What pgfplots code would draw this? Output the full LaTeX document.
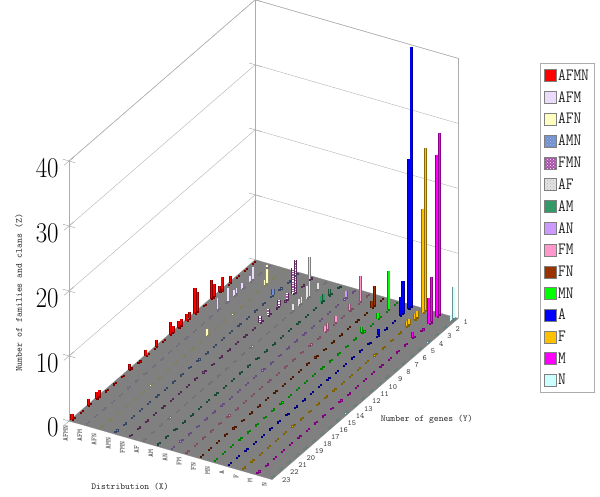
\documentclass[border=0pt]{standalone}
\usepackage{pgfplots}
\usepackage{pgfplotstable}
\pgfplotsset{compat=1.18}
\usetikzlibrary{patterns,calc}
\definecolor{cAFMN}{HTML}{FF0000}
\definecolor{cAFM}{HTML}{EADCFA}
\definecolor{cAFN}{HTML}{FFFFC0}
\definecolor{cAMN}{HTML}{6F8FCF}
\definecolor{cFMN}{HTML}{A850A8}
\definecolor{cAF}{HTML}{E4E4E4}
\definecolor{cAM}{HTML}{339966}
\definecolor{cAN}{HTML}{CC99FF}
\definecolor{cFM}{HTML}{FF99CC}
\definecolor{cFN}{HTML}{993300}
\definecolor{cMN}{HTML}{00FF00}
\definecolor{cA}{HTML}{0000FF}
\definecolor{cF}{HTML}{FFC000}
\definecolor{cM}{HTML}{FF00FF}
\definecolor{cN}{HTML}{CCFFFF}
\pgfplotstableread{
j b1 f1 b2 f2 b3 f3 b4 f4 b5 f5 b6 f6 b7 f7 b8 f8 b9 f9 b10 f10 b11 f11 b12 f12 b13 f13 b14 f14 b15 f15
1 0 0 0 0 0 0 0 0 0 0 0 0 0 0 0 0 0 0 0 0 0 0 40 23 25 16 28 25 5 1
2 0 0 0 0 0 0 0 0 0 0 1 0 0 1 1 0 4 0 3 1 6 0 5 3 1 1 7 4 0 0
3 0 0 2 1 3 1 0 0 5 4 6 2 1 1 0 0 0 1 0 0 0 1 0 0 1 1 0 0 0 0
4 1 0 0 1 0 0 1 0 1 0 1 1 0 0 0 0 0 0 0 0 0 0 0 0 0 0 0 1 0 0
5 2 1 1 1 0 0 0 0 1 0 1 0 0 0 0 0 1 0 0 0 0 1 1 0 0 0 0 0 0 0
6 2 3 2 0 0 0 0 0 0 1 0 0 0 0 0 0 1 1 0 0 0 0 0 0 0 0 0 0 0 0
7 0 0 0 2 0 0 0 0 0 1 0 0 0 0 0 0 0 0 0 0 0 0 0 0 0 0 0 0 0 0
8 3 4 0 0 0 0 0 0 0 0 0 0 0 0 0 0 0 0 0 0 0 0 0 0 0 0 0 0 0 0
9 1 1 0 0 0 0 0 0 0 0 0 0 0 0 0 0 0 0 0 0 0 0 0 0 0 0 0 0 0 0
10 1 1 0 0 0 1 0 0 0 0 0 0 0 0 0 0 0 0 0 0 0 0 0 0 0 0 0 0 0 0
11 1 2 0 0 0 0 0 0 0 0 0 0 0 0 0 0 0 0 0 0 0 0 0 0 0 0 0 0 0 0
12 0 0 0 0 0 0 0 0 0 0 0 0 0 0 0 0 0 0 0 0 0 0 0 0 0 0 0 0 0 0
13 1 0 0 0 0 0 0 0 0 0 0 0 0 0 0 0 0 0 0 0 0 0 0 0 0 0 0 0 0 0
14 0 1 0 0 0 0 0 0 0 0 0 0 0 0 0 0 0 0 0 0 0 0 0 0 0 0 0 0 0 0
15 0 0 0 0 0 0 0 0 0 0 0 0 0 0 0 0 0 0 0 0 0 0 0 0 0 0 0 0 0 0
16 0 1 0 0 0 0 0 0 0 0 0 0 0 0 0 0 0 0 0 0 0 0 0 0 0 0 0 0 0 0
17 0 0 0 0 0 0 0 0 0 0 0 0 0 0 0 0 0 0 0 0 0 0 0 0 0 0 0 0 0 0
18 0 0 0 0 0 0 0 0 0 0 0 0 0 0 0 0 0 0 0 0 0 0 0 0 0 0 0 0 0 0
19 0 0 0 0 0 0 0 0 0 0 0 0 0 0 0 0 0 0 0 0 0 0 0 0 0 0 0 0 0 0
20 1 1 0 0 0 0 0 0 0 0 0 0 0 0 0 0 0 0 0 0 0 0 0 0 0 0 0 0 0 0
21 0 1 0 0 0 0 0 0 0 0 0 0 0 0 0 0 0 0 0 0 0 0 0 0 0 0 0 0 0 0
22 0 0 0 0 0 0 0 0 0 0 0 0 0 0 0 0 0 0 0 0 0 0 0 0 0 0 0 0 0 0
23 0 1 0 0 0 0 0 0 0 0 0 0 0 0 0 0 0 0 0 0 0 0 0 0 0 0 0 0 0 0
}\data
\pgfplotsset{
  barout/.style={forget plot,draw=none,no markers,
     error bars/.cd,z dir=minus,z explicit,error mark=none,
     error bar style={line cap=butt,line width=3.2pt,draw=#1!55!black}},
  barin/.style={forget plot,draw=none,no markers,
     error bars/.cd,z dir=minus,z explicit,error mark=none,
     error bar style={line cap=butt,line width=1.7pt,draw=#1}},
  barcheck/.style={forget plot,draw=none,no markers,
     error bars/.cd,z dir=minus,z explicit,error mark=none,
     error bar style={line cap=butt,line width=1.7pt,draw=white,dash pattern=on 1.2pt off 1.2pt}},
  floormark/.style={forget plot,only marks,mark=square*,mark size=0.6pt,
     mark options={draw=#1!50!black,fill=#1,line width=0.25pt}},
}
\newcommand\series[2]{%
  \addplot3[floormark=#2] table[x expr=#1,y expr=-\thisrow{j},z expr=0]{\data};
  \addplot3[floormark=#2] table[x expr=#1,y expr=-\thisrow{j}-0.25,z expr=0]{\data};
  \addplot3[barout=#2] table[x expr=#1,y expr=-\thisrow{j},z=b#1,z error=b#1]{\data};
  \addplot3[barin=#2] table[x expr=#1,y expr=-\thisrow{j},z=b#1,z error=b#1]{\data};
  \addplot3[barout=#2] table[x expr=#1,y expr=-\thisrow{j}-0.317,z=f#1,z error=f#1]{\data};
  \addplot3[barin=#2] table[x expr=#1,y expr=-\thisrow{j}-0.317,z=f#1,z error=f#1]{\data};
}
\newcommand\texture[1]{%
  \addplot3[barcheck] table[x expr=#1,y expr=-\thisrow{j},z=b#1,z error=b#1]{\data};
  \addplot3[barcheck] table[x expr=#1,y expr=-\thisrow{j}-0.317,z=f#1,z error=f#1]{\data};
}
\newcommand\leg[2]{%
  \addlegendimage{legend image code/.code={\draw[gray,fill=#1,line width=0.5pt] (0pt,-6pt) rectangle (12pt,6pt);}}
  \addlegendentry{\scalebox{1}[1.15]{#2}}
}
\newcommand\legp[4]{%
  \addlegendimage{legend image code/.code={\fill[#1] (0pt,-6pt) rectangle (12pt,6pt);\fill[pattern=#3,pattern color=#4] (0pt,-6pt) rectangle (12pt,6pt);\draw[gray,line width=0.5pt] (0pt,-6pt) rectangle (12pt,6pt);}}
  \addlegendentry{\scalebox{1}[1.15]{#2}}
}
\begin{document}
\begin{tikzpicture}
\begin{axis}[
  x={(14.2pt,-4.1pt)}, y={(8.2pt,7.1pt)}, z={(0pt,6.5pt)},
  disabledatascaling,
  xmin=0.9,xmax=15.2,ymin=-23.5,ymax=-0.8,zmin=0,zmax=40,
  clip=false,
  axis line style={gray!65,line width=0.5pt},
  zmajorgrids,
  major grid style={gray!60,line width=0.4pt},
  xtick={1,...,15},
  xticklabels={AFMN,AFM,AFN,AMN,FMN,AF,AM,AN,FM,FN,MN,A,F,M,N},
  ytick={-1,-2,...,-23},
  yticklabels={1,2,3,4,5,6,7,8,9,10,11,12,13,14,15,16,17,18,19,20,21,22,23},
  ztick={0,10,20,30,40},
  ztick pos=left,
  x tick style={draw=none},y tick style={draw=none},
  z tick style={gray!65,line width=0.5pt},
  tick align=center,
  major tick length=13pt,
  xticklabel style={rotate=90,anchor=east,font=\ttfamily\fontsize{7.5}{8}\selectfont,text=black!75,xshift=4pt},
  yticklabel style={font=\ttfamily\fontsize{8}{8}\selectfont,text=black!75,yshift=6pt,xshift=-2pt},
  zticklabel={\scalebox{1}[1.15]{\pgfmathprintnumber{\tick}}},
  zticklabel style={font=\fontsize{27}{27}\selectfont,text=black,xshift=-2pt},
  legend style={at={(1.2095,0.868)},anchor=north west,draw=gray!65,line width=0.5pt,
    font=\ttfamily\fontsize{15}{15}\selectfont,row sep=5.6pt,inner ysep=4pt,inner xsep=3.5pt,
    cells={anchor=west},text=black!85},
]
\leg{cAFMN}{AFMN}
\leg{cAFM}{AFM}
\leg{cAFN}{AFN}
\legp{cAMN}{AMN}{crosshatch dots}{white!45!cAMN}
\legp{cFMN}{FMN}{crosshatch dots}{white}
\legp{cAF}{AF}{crosshatch dots}{gray!60}
\leg{cAM}{AM}
\leg{cAN}{AN}
\leg{cFM}{FM}
\leg{cFN}{FN}
\leg{cMN}{MN}
\leg{cA}{A}
\leg{cF}{F}
\leg{cM}{M}
\leg{cN}{N}
\fill[gray] (axis cs:0.9,-0.8,0) -- (axis cs:15.2,-0.8,0) -- (axis cs:15.2,-23.5,0) -- (axis cs:0.9,-23.5,0) -- cycle;
\series{1}{cAFMN}
\series{2}{cAFM}
\series{3}{cAFN}
\series{4}{cAMN}
\series{5}{cFMN}
\texture{5}
\series{6}{cAF}
\series{7}{cAM}
\series{8}{cAN}
\series{9}{cFM}
\series{10}{cFN}
\series{11}{cMN}
\series{12}{cA}
\series{13}{cF}
\series{14}{cM}
\series{15}{cN}
\coordinate (ref) at (axis cs:0.9,-0.8,0);
\end{axis}
\node[rotate=90,font=\ttfamily\fontsize{9.4}{10}\selectfont,text=black!80] at ($(ref)+(-236.2pt,-33.2pt)$) {Number of families and clans (Z)};
\node[font=\ttfamily\fontsize{9.2}{10}\selectfont,text=black!80] at ($(ref)+(-125.2pt,-227.2pt)$) {Distribution (X)};
\node[font=\ttfamily\fontsize{9.2}{10}\selectfont,text=black!80] at ($(ref)+(171.5pt,-159.2pt)$) {Number of genes (Y)};
\pgfresetboundingbox
\path[use as bounding box] ($(ref)+(-255.2pt,-237.2pt)$) rectangle ($(ref)+(344.8pt,259.8pt)$);
\end{tikzpicture}
\end{document}
